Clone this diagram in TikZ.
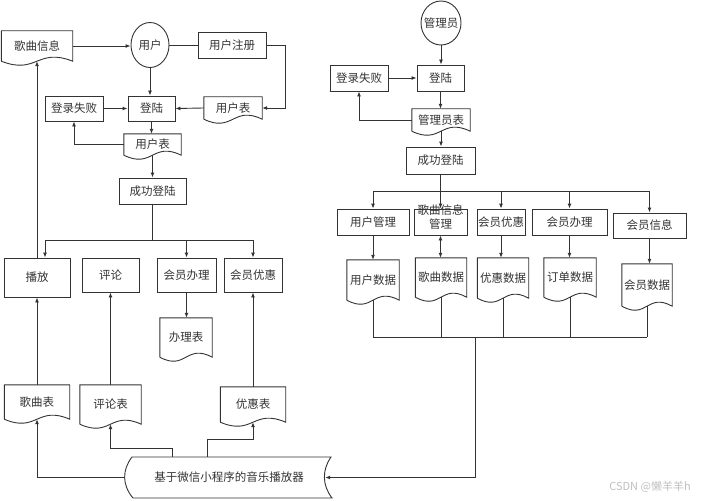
\documentclass[tikz,border=0pt]{standalone}
\usepackage{fontspec}
\newfontfamily\cjk{Noto Sans CJK SC}
\usetikzlibrary{arrows.meta,calc,shapes.geometric}
\tikzset{
  base/.style={font=\cjk\fontsize{11.5}{14}\selectfont, text=black!80, inner sep=0pt},
  box/.style={base, draw=black!80, line width=0.9pt, rectangle},
  actor/.style={base, draw=black!80, line width=0.9pt, ellipse},
  line/.style={draw=black!80, line width=0.9pt},
  arr/.style={line, -{Latex[length=5pt,width=4pt]}},
  arrtwo/.style={line, {Latex[length=5pt,width=4pt]}-{Latex[length=5pt,width=4pt]}},
}
\newcommand{\docnode}[5]{%
  \node[base, rectangle, minimum width=#3pt, minimum height=#4pt] (#1) at (#2) {#5};
  \draw[line] (#1.south west) -- (#1.north west) -- (#1.north east) -- (#1.south east)
    .. controls ($(#1.south)+(0,-14)$) and ($(#1.south)+(0,14)$) .. (#1.south west);
}
\begin{document}
\begin{tikzpicture}[x=1pt,y=-1pt]
    \useasboundingbox (0,0) rectangle (703,500);
    \node[actor, minimum width=38pt, minimum height=45pt] (yonghu) at (150,45) {\makebox[0pt]{用户}};
    \node[box, minimum width=68pt, minimum height=26pt] (zhuce) at (232,45) {用户注册};
    \docnode{gequxx}{37,46}{71}{30}{歌曲信息}
    \node[box, minimum width=47pt, minimum height=25pt] (denglu) at (151.5,108.5) {登陆};
    \node[box, minimum width=58pt, minimum height=25pt] (shibai) at (74,108.5) {登录失败};
    \docnode{yhb}{233,108}{58}{22}{用户表}
    \docnode{yhbb}{152.5,144.5}{57}{21}{用户表}
    \node[box, minimum width=67pt, minimum height=26pt] (chenggong) at (152.5,191) {成功登陆};
    \node[box, minimum width=66pt, minimum height=39pt] (bofang) at (37,277.5) {播放};
    \node[box, minimum width=57pt, minimum height=34pt] (pinglun) at (110.5,275) {评论};
    \node[box, minimum width=59pt, minimum height=34pt] (hybl) at (186.5,275) {会员办理};
    \node[box, minimum width=58pt, minimum height=34pt] (hyyh) at (253,275) {会员优惠};
    \docnode{blbiao}{186,337.5}{52}{39}{办理表}
    \docnode{gqbiao}{37,402}{65}{34}{歌曲表}
    \docnode{plbiao}{110.5,404.5}{61}{39}{评论表}
    \docnode{yhuib}{253,404.5}{65}{35}{优惠表}
    \draw[line] (132,457) -- (331,457) .. controls (322,470) and (322,485) .. (332,498)
      -- (133,498) .. controls (122,485) and (122,470) .. (132,457) -- cycle;
    \node[base, minimum width=208pt, minimum height=41pt] (player) at (229,477.5) {基于微信小程序的音乐播放器};
    \draw[arr] (gequxx.east) -- (gequxx.east -| yonghu.west);
    \draw[line] (yonghu.east) -- (zhuce.west);
    \draw[arr] (zhuce.east) -- ++(19,0) |- (yhb.east);
    \draw[arr] (yonghu.south) -- (yonghu.south |- denglu.north);
    \draw[arr] (shibai.east) -- (denglu.west);
    \draw[arr] (yhb.west) -- (denglu.east);
    \draw[arr] (denglu.south) -- (denglu.south |- yhbb.north);
    \draw[arr] (yhbb.west) -| (shibai.south);
    \draw[arr] (yhbb.south) -- (yhbb.south |- chenggong.north);
    \coordinate (lbus) at (45,240);
    \draw[line] (chenggong.south) -- (chenggong.south |- lbus);
    \draw[line] (lbus) -- (lbus -| hyyh.north);
    \draw[arr] (lbus) -- (lbus |- bofang.north);
    \foreach \n in {hybl,hyyh}
      \draw[arr] (lbus -| \n.north) -- (\n.north);
    \draw[arr] (bofang.north) -- (gequxx.south);
    \draw[arr] (hybl.south) -- (hybl.south |- blbiao.north);
    \draw[arr] (gqbiao.north) -- (bofang.south);
    \draw[arr] (plbiao.north) -- (pinglun.south);
    \draw[arr] (yhuib.north) -- (hyyh.south);
    \draw[arr] (player.west) -| (gqbiao.south);
    \coordinate (pl) at (172,448);
    \coordinate (yh) at (207,439);
    \draw[arr] (player.north -| pl) -- (pl) -| (plbiao.south);
    \draw[arr] (player.north -| yh) -- (yh) -| (yhuib.south);
    \node[actor, minimum width=40pt, minimum height=44pt] (gly) at (441,23) {\makebox[0pt]{管理员}};
    \node[box, minimum width=47pt, minimum height=26pt] (denglu2) at (440.5,78) {登陆};
    \node[box, minimum width=58pt, minimum height=26pt] (shibai2) at (359,78) {登录失败};
    \docnode{glbiao}{441,120}{58}{22}{管理员表}
    \node[box, minimum width=69pt, minimum height=27pt] (cg2) at (440.5,160.5) {成功登陆};
    \node[box, minimum width=72pt, minimum height=26pt] (yhgl) at (373,222) {用户管理};
    \node[box, minimum width=53pt, minimum height=26pt] (gqgl) at (440.5,222)
      {\smash{\begin{tabular}{@{}c@{}}歌曲信息\\管理\end{tabular}}};
    \node[box, minimum width=48pt, minimum height=26pt] (hyyh2) at (501,222) {会员优惠};
    \node[box, minimum width=75pt, minimum height=26pt] (hybl2) at (569.5,222) {会员办理};
    \node[box, minimum width=73pt, minimum height=25pt] (hyxx) at (649.5,225.5) {会员信息};
    \docnode{yhsj}{373,280}{52}{40}{用户数据}
    \docnode{gqsj}{441,277.5}{51}{39}{歌曲数据}
    \docnode{yhuisj}{503,278}{51}{40}{优惠数据}
    \docnode{ddsj}{570,277.5}{52}{39}{订单数据}
    \docnode{hysj}{647,285}{50}{42}{会员数据}
    \draw[arr] (gly.south) -- (gly.south |- denglu2.north);
    \draw[arr] (shibai2.east) -- (denglu2.west);
    \draw[arr] (denglu2.south) -- (denglu2.south |- glbiao.north);
    \draw[arr] (glbiao.west) -| (shibai2.south);
    \draw[arr] (glbiao.south) -- (glbiao.south |- cg2.north);
    \coordinate (rbus) at (373,191);
    \draw[line] (cg2.south) -- (cg2.south |- rbus);
    \draw[line] (rbus) -- (rbus -| hyxx.north);
    \foreach \n in {yhgl,gqgl,hyyh2,hybl2,hyxx}
      \draw[arr] (rbus -| \n.north) -- (\n.north);
    \draw[arr] (yhgl.south) -- (yhgl.south |- yhsj.north);
    \draw[arrtwo] (gqgl.south) -- (gqgl.south |- gqsj.north);
    \draw[arr] (hyyh2.south) -- (hyyh2.south |- yhuisj.north);
    \draw[arr] (hybl2.south) -- (hybl2.south |- ddsj.north);
    \draw[arr] (hyxx.south) -- (hyxx.south |- hysj.north);
    \coordinate (rbus2) at (373,337);
    \draw[line] (rbus2) -- (rbus2 -| hysj.south);
    \foreach \n in {yhsj,gqsj,yhuisj,ddsj,hysj}
      \draw[line] (\n.south) -- (\n.south |- rbus2);
    \coordinate (rjoin) at (475,337);
    \draw[arr] (rjoin) |- ($(player.east)+(-8,0)$);
    \node[font=\cjk\fontsize{11}{13}\selectfont, text=black!25, inner sep=0pt] (mark) at (650,487) {CSDN @懒羊羊h};
\end{tikzpicture}
\end{document}
